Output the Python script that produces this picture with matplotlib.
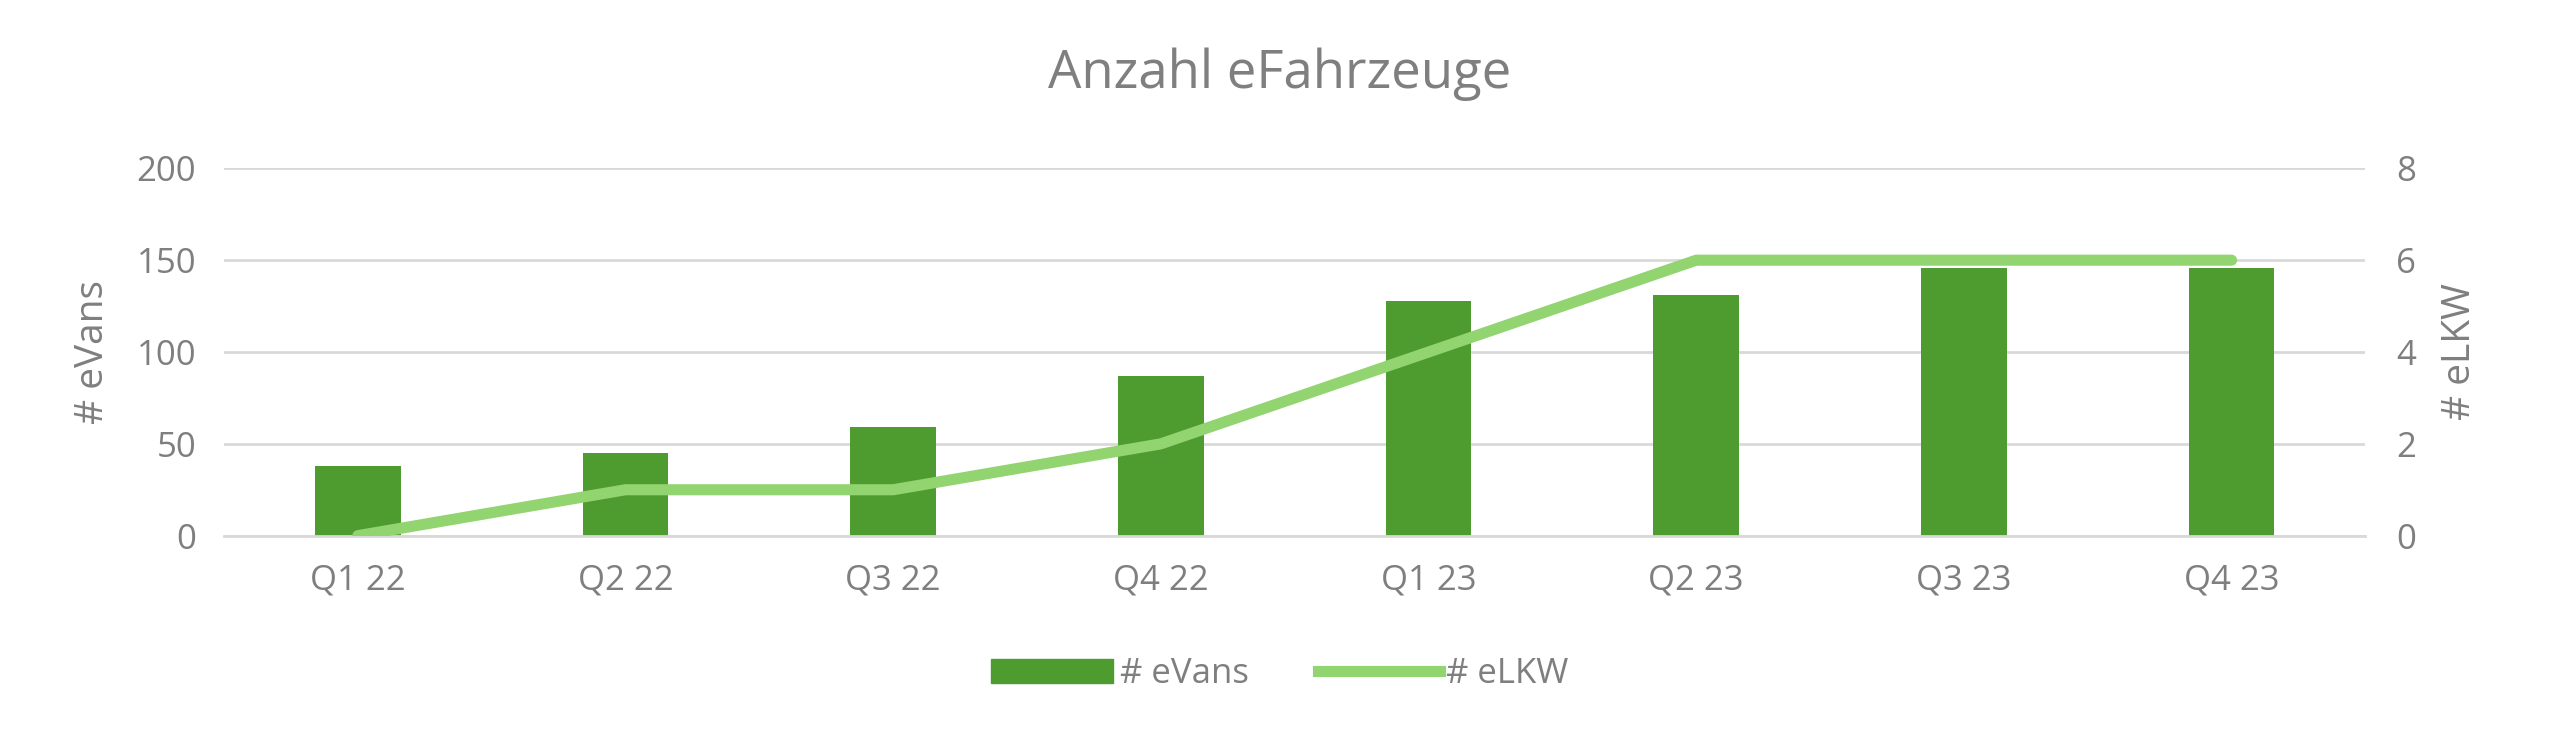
import matplotlib
matplotlib.use("Agg")
import matplotlib.pyplot as plt
from matplotlib.lines import Line2D
from matplotlib.patches import Patch

categories = ["Q1 22", "Q2 22", "Q3 22", "Q4 22", "Q1 23", "Q2 23", "Q3 23", "Q4 23"]
evans = [38, 45, 59, 87, 128, 131, 146, 146]
elkw = [0, 1, 1, 2, 4, 6, 6, 6]

grey = "#7F7F7F"
bar_c = "#4E9C2F"
line_c = "#92D470"
plt.rcParams['font.family'] = ['Open Sans', 'DejaVu Sans']

fig = plt.figure(figsize=(25.6, 7.45), dpi=100)
ax = fig.add_axes([0.0535, 0.56, 0.513, 0.302])
ax.set_position([0.0875, 0.281, 0.8365, 0.493])
x = range(len(categories))
ax.bar(x, evans, width=0.32, color=bar_c, zorder=2)
ax.set_ylim(0, 200)
ax.set_yticks([0, 50, 100, 150, 200])
ax.set_xlim(-0.5, len(categories) - 0.5)
ax.set_xticks(list(x))
ax.set_xticklabels(categories)
ax.grid(axis='y', color="#D9D9D9", lw=2, zorder=0)
for s in ax.spines.values():
    s.set_visible(False)
ax.spines['bottom'].set_visible(True)
ax.spines['bottom'].set_color("#D9D9D9")
ax.spines['bottom'].set_linewidth(2)
ax.tick_params(length=0, labelsize=25, colors=grey, pad=20)
ax.set_ylabel("# eVans", fontsize=28, color=grey, labelpad=18)

ax2 = ax.twinx()
ax2.plot(list(x), elkw, color=line_c, lw=8, solid_capstyle='round', zorder=3)
ax2.set_ylim(0, 8)
ax2.set_yticks([0, 2, 4, 6, 8])
for s in ax2.spines.values():
    s.set_visible(False)
ax2.tick_params(length=0, labelsize=25, colors=grey, pad=22)
ax2.set_ylabel("# eLKW", fontsize=28, color=grey, labelpad=18)

fig.text(0.5, 0.9, "Anzahl eFahrzeuge", ha='center', va='center', fontsize=38, color=grey)
handles = [Patch(color=bar_c), Line2D([0], [0], color=line_c, lw=8)]
fig.legend(handles, ["# eVans", "# eLKW"], loc='center', bbox_to_anchor=(0.5, 0.095),
           ncol=2, frameon=False, fontsize=25, labelcolor=grey, handlelength=3.5,
           handletextpad=0.2, columnspacing=2)
fig.savefig("out.png", dpi=100)
